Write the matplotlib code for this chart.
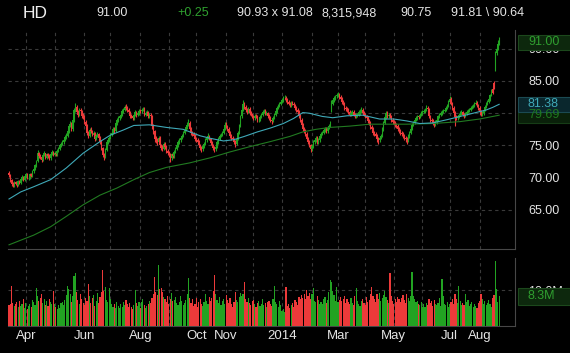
import numpy as np
import pandas as pd
import matplotlib
matplotlib.use('Agg')
import matplotlib.pyplot as plt
from matplotlib.patches import Rectangle
from matplotlib.transforms import blended_transform_factory

plt.rcParams['font.family'] = ['Liberation Sans', 'DejaVu Sans']

# daily bars for HD
start_date = '2013-03-13'
end_date = '2014-08-22'

opens = [
    70.8, 70.4, 69.6, 69.0, 68.8, 69.3, 69.1, 68.9, 69.5, 69.2,
    69.8, 70.1, 69.7, 70.2, 70.5, 70.0, 70.0, 70.6, 70.3, 71.0,
    71.4, 71.9, 72.6, 73.8, 73.4, 73.2, 72.8, 73.5, 73.8, 73.1,
    73.6, 73.4, 73.0, 73.7, 74.0, 73.5, 73.9, 73.6, 74.2, 74.5,
    75.0, 75.3, 75.5, 75.9, 76.3, 76.5, 77.2, 78.0, 78.4, 77.5,
    78.9, 80.5, 81.0, 80.2, 79.8, 80.5, 80.3, 79.6, 79.5, 78.6,
    78.0, 77.0, 76.5, 77.4, 77.2, 76.6, 76.9, 76.0, 76.5, 76.8,
    76.2, 75.5, 74.6, 73.5, 73.2, 74.3, 75.5, 75.8, 76.2, 76.6,
    77.0, 77.5, 77.3, 78.5, 78.9, 79.2, 79.5, 79.8, 80.3, 80.5,
    81.0, 80.8, 80.5, 80.2, 79.6, 79.5, 79.2, 79.8, 80.2, 79.7,
    80.0, 80.4, 80.3, 80.5, 80.7, 79.8, 80.0, 80.2, 79.5, 79.8,
    79.5, 78.0, 77.2, 76.0, 75.8, 75.5, 76.2, 75.0, 74.6, 74.5,
    75.2, 74.8, 74.2, 73.8, 73.5, 73.0, 73.6, 73.3, 74.0, 74.5,
    75.0, 75.5, 75.8, 76.2, 76.5, 77.0, 77.4, 77.8, 78.2, 78.5,
    77.5, 77.0, 76.8, 76.5, 76.0, 75.8, 75.5, 75.0, 74.6, 74.5,
    74.9, 75.2, 75.8, 76.2, 76.5, 76.0, 75.4, 75.0, 74.6, 74.4,
    74.8, 75.5, 76.0, 76.5, 76.7, 77.0, 77.6, 78.2, 78.0, 77.5,
    77.0, 76.5, 76.2, 76.0, 75.6, 75.2, 76.0, 77.0, 78.0, 79.5,
    80.5, 81.5, 81.0, 80.5, 80.2, 80.6, 80.0, 79.8, 79.5, 79.2,
    79.6, 79.5, 79.0, 79.0, 79.4, 79.8, 80.2, 80.3, 80.0, 80.0,
    79.6, 79.2, 78.9, 78.8, 79.3, 79.8, 80.3, 80.8, 81.2, 81.5,
    81.8, 82.0, 82.3, 82.3, 82.0, 81.8, 81.5, 81.2, 81.6, 81.5,
    81.2, 80.8, 80.5, 80.2, 79.6, 79.0, 78.2, 77.5, 77.2, 76.8,
    76.0, 75.5, 75.0, 74.5, 74.9, 75.5, 75.8, 76.2, 75.5, 75.8,
    76.4, 76.8, 77.0, 77.4, 77.5, 77.2, 77.7, 78.0, 80.5, 81.5,
    82.0, 82.3, 82.6, 82.8, 82.9, 82.5, 82.2, 81.8, 81.5, 80.8,
    80.6, 80.5, 80.2, 79.8, 80.0, 80.2, 79.8, 79.5, 79.7, 79.8,
    80.2, 80.2, 80.5, 80.0, 79.8, 79.5, 79.2, 78.8, 78.5, 77.8,
    77.5, 77.0, 76.8, 76.5, 76.0, 75.8, 76.2, 76.5, 77.5, 78.5,
    79.4, 80.0, 79.6, 79.8, 79.5, 79.0, 78.6, 78.5, 78.2, 78.0,
    77.5, 77.2, 77.0, 76.8, 76.5, 76.2, 76.0, 75.8, 76.5, 77.0,
    77.6, 78.2, 78.5, 79.0, 79.2, 79.5, 79.4, 79.8, 80.0, 80.2,
    80.4, 80.5, 80.8, 80.6, 79.5, 79.0, 78.8, 78.5, 78.2, 78.6,
    79.0, 79.5, 79.8, 80.0, 80.2, 80.4, 80.5, 80.8, 81.2, 81.8,
    82.2, 81.5, 80.8, 80.0, 79.4, 79.2, 79.5, 79.8, 80.0, 80.2,
    79.8, 79.6, 79.9, 80.2, 80.4, 80.5, 80.8, 81.0, 81.2, 81.5,
    81.6, 81.2, 80.8, 80.2, 79.8, 80.0, 80.5, 81.0, 81.5, 81.8,
    82.2, 82.8, 83.8, 84.7, 86.9, 89.3, 90.0, 90.75,
]
highs = [
    71.1, 70.5, 69.8, 69.3, 69.5, 69.5, 69.3, 69.7, 69.6, 70.0,
    70.4, 70.3, 70.4, 70.8, 70.7, 70.3, 70.8, 70.8, 71.2, 71.7,
    72.1, 72.8, 74.3, 74.0, 73.7, 73.4, 73.7, 74.1, 73.9, 73.9,
    73.9, 73.6, 73.9, 74.3, 74.2, 74.1, 74.1, 74.4, 74.8, 75.2,
    75.6, 75.8, 76.1, 76.6, 76.9, 77.5, 78.3, 78.8, 78.6, 79.2,
    80.8, 81.6, 81.2, 80.5, 80.8, 80.8, 80.5, 80.0, 79.8, 78.9,
    78.3, 77.3, 77.7, 77.8, 77.4, 77.2, 77.1, 76.8, 77.1, 77.0,
    76.4, 75.8, 74.8, 73.9, 74.6, 75.8, 76.1, 76.5, 76.9, 77.3,
    77.8, 77.8, 78.8, 79.2, 79.5, 79.8, 80.1, 80.6, 80.8, 81.3,
    81.4, 81.1, 80.8, 80.4, 79.9, 79.8, 80.1, 80.5, 80.4, 80.3,
    80.7, 80.7, 80.8, 81.0, 80.9, 80.3, 80.5, 80.4, 80.1, 80.0,
    79.7, 78.3, 77.4, 76.4, 76.1, 76.5, 76.4, 75.3, 75.0, 75.5,
    75.5, 75.0, 74.5, 74.1, 73.8, 73.9, 73.9, 74.3, 74.8, 75.3,
    75.8, 76.1, 76.5, 76.8, 77.3, 77.7, 78.1, 78.6, 79.1, 78.8,
    77.8, 77.3, 77.1, 76.8, 76.3, 76.1, 75.8, 75.3, 74.9, 75.2,
    75.5, 76.1, 76.5, 76.9, 76.7, 76.2, 75.7, 75.3, 74.9, 75.1,
    75.8, 76.3, 76.8, 77.0, 77.3, 77.9, 78.7, 78.6, 78.2, 77.8,
    77.3, 76.8, 76.5, 76.2, 75.9, 76.3, 77.3, 78.3, 79.8, 80.8,
    82.0, 81.8, 81.3, 80.8, 80.9, 80.9, 80.3, 80.1, 79.8, 79.9,
    79.9, 79.8, 79.3, 79.7, 80.1, 80.5, 80.6, 80.6, 80.3, 80.2,
    79.9, 79.5, 79.1, 79.6, 80.1, 80.6, 81.1, 81.5, 81.8, 82.1,
    82.3, 82.6, 82.8, 82.6, 82.3, 82.0, 81.8, 81.9, 81.9, 81.7,
    81.5, 81.1, 80.8, 80.5, 79.9, 79.3, 78.5, 77.9, 77.5, 77.1,
    76.3, 75.8, 75.3, 75.2, 75.8, 76.1, 76.5, 76.4, 76.1, 76.7,
    77.1, 77.3, 77.7, 77.9, 77.8, 78.0, 78.3, 78.8, 82.0, 82.4,
    82.6, 82.9, 83.2, 83.3, 83.1, 82.8, 82.5, 82.0, 81.7, 81.1,
    80.9, 80.8, 80.5, 80.3, 80.5, 80.5, 80.1, 80.0, 80.1, 80.5,
    80.6, 80.9, 80.8, 80.3, 80.1, 79.8, 79.5, 79.1, 78.8, 78.1,
    77.8, 77.3, 77.1, 76.8, 76.3, 76.5, 76.8, 77.8, 78.8, 79.7,
    80.4, 80.3, 80.1, 80.1, 79.8, 79.3, 78.9, 78.8, 78.5, 78.3,
    77.8, 77.5, 77.3, 77.1, 76.8, 76.5, 76.3, 76.8, 77.3, 77.9,
    78.5, 78.8, 79.3, 79.5, 79.8, 79.8, 80.1, 80.3, 80.5, 80.7,
    80.8, 81.3, 81.1, 80.8, 79.8, 79.3, 79.1, 78.8, 78.9, 79.3,
    79.8, 80.1, 80.3, 80.5, 80.7, 80.8, 81.1, 81.5, 82.1, 82.6,
    82.5, 81.8, 81.1, 80.3, 79.7, 79.8, 80.1, 80.3, 80.5, 80.4,
    80.1, 80.2, 80.5, 80.7, 80.8, 81.1, 81.3, 81.5, 81.8, 82.0,
    81.9, 81.5, 81.1, 80.5, 80.3, 80.8, 81.3, 81.8, 82.1, 82.5,
    83.0, 83.7, 84.2, 85.0, 89.6, 90.3, 91.3, 91.81,
]
lows = [
    70.1, 69.4, 68.7, 68.5, 68.6, 68.9, 68.6, 68.7, 69.0, 69.1,
    69.6, 69.5, 69.5, 70.0, 69.8, 69.7, 69.8, 70.1, 70.1, 70.8,
    71.2, 71.7, 72.4, 73.1, 72.9, 72.5, 72.6, 73.3, 72.9, 72.9,
    73.1, 72.8, 72.8, 73.5, 73.3, 73.3, 73.4, 73.4, 74.0, 74.3,
    74.8, 75.0, 75.3, 75.7, 76.0, 76.3, 77.0, 77.8, 77.2, 77.3,
    78.7, 80.2, 80.0, 79.4, 79.6, 80.0, 79.3, 79.1, 78.3, 77.5,
    76.7, 76.1, 76.3, 76.9, 76.4, 76.4, 75.7, 75.8, 76.3, 75.9,
    75.2, 74.3, 73.2, 72.8, 73.0, 74.1, 75.3, 75.6, 76.0, 76.4,
    76.8, 77.0, 77.1, 78.2, 78.6, 79.0, 79.3, 79.6, 80.1, 80.3,
    80.5, 80.2, 79.9, 79.3, 79.2, 78.9, 79.0, 79.6, 79.4, 79.5,
    79.8, 80.0, 80.1, 80.3, 79.5, 79.6, 79.8, 79.3, 79.3, 79.2,
    77.6, 76.8, 75.6, 75.4, 75.1, 75.3, 74.7, 74.3, 74.1, 74.3,
    74.5, 73.9, 73.5, 73.2, 72.4, 72.8, 73.0, 73.1, 73.8, 74.3,
    74.8, 75.3, 75.6, 76.0, 76.3, 76.8, 77.2, 77.6, 78.0, 77.2,
    76.7, 76.5, 76.2, 75.7, 75.5, 75.2, 74.7, 74.3, 74.0, 74.2,
    74.6, 75.0, 75.6, 76.0, 75.8, 75.1, 74.7, 74.3, 74.0, 74.2,
    74.6, 75.3, 75.8, 76.3, 76.5, 76.8, 77.4, 77.7, 77.2, 76.7,
    76.2, 75.9, 75.7, 75.3, 74.8, 75.0, 75.8, 76.8, 77.8, 79.3,
    80.3, 80.7, 80.2, 79.9, 80.0, 79.7, 79.5, 79.2, 78.9, 79.0,
    79.2, 78.7, 78.6, 78.8, 79.2, 79.6, 80.0, 79.7, 79.7, 79.3,
    78.9, 78.6, 78.4, 78.6, 79.1, 79.6, 80.1, 80.6, 81.0, 81.3,
    81.6, 81.8, 82.0, 81.7, 81.5, 81.2, 80.9, 81.0, 81.2, 80.9,
    80.5, 80.2, 79.9, 79.3, 78.7, 77.9, 77.2, 76.9, 76.4, 75.7,
    75.2, 74.7, 74.0, 74.2, 74.6, 75.3, 75.6, 75.2, 75.3, 75.6,
    76.2, 76.6, 76.8, 77.1, 76.9, 77.0, 77.5, 77.8, 80.2, 81.2,
    81.7, 82.1, 82.4, 82.5, 82.2, 81.9, 81.5, 81.2, 80.5, 80.3,
    80.2, 79.9, 79.5, 79.5, 79.7, 79.5, 79.2, 79.2, 79.4, 79.6,
    79.8, 80.0, 79.7, 79.5, 79.2, 78.9, 78.5, 78.2, 77.5, 77.1,
    76.7, 76.5, 76.2, 75.6, 75.3, 75.5, 76.0, 76.3, 77.3, 78.3,
    79.1, 79.3, 79.3, 79.2, 78.7, 78.3, 78.2, 77.9, 77.7, 77.2,
    76.9, 76.7, 76.5, 76.2, 75.9, 75.6, 75.2, 75.5, 76.2, 76.8,
    77.4, 78.0, 78.3, 78.8, 79.0, 79.1, 79.2, 79.6, 79.8, 80.0,
    80.1, 80.3, 80.3, 79.3, 78.7, 78.5, 78.2, 77.8, 78.0, 78.4,
    78.8, 79.3, 79.6, 79.8, 80.0, 80.2, 80.3, 80.6, 81.0, 81.5,
    81.2, 80.5, 79.7, 78.0, 78.9, 79.0, 79.3, 79.6, 79.8, 79.5,
    79.3, 79.4, 79.7, 80.0, 80.2, 80.3, 80.6, 80.8, 81.0, 81.2,
    80.9, 80.5, 79.9, 79.5, 79.5, 79.8, 80.3, 80.8, 81.3, 81.6,
    81.9, 82.6, 83.0, 83.8, 86.6, 89.0, 89.8, 90.64,
]
closes = [
    70.4, 69.6, 69.0, 68.8, 69.3, 69.1, 68.9, 69.5, 69.2, 69.8,
    70.1, 69.7, 70.2, 70.5, 70.0, 70.0, 70.6, 70.3, 71.0, 71.4,
    71.9, 72.5, 73.8, 73.4, 73.2, 72.8, 73.5, 73.8, 73.1, 73.6,
    73.4, 73.0, 73.7, 74.0, 73.5, 73.9, 73.6, 74.2, 74.5, 75.0,
    75.3, 75.5, 75.9, 76.3, 76.5, 77.2, 78.0, 78.4, 77.5, 78.9,
    80.5, 81.0, 80.2, 79.8, 80.5, 80.3, 79.6, 79.5, 78.6, 78.0,
    77.0, 76.5, 77.4, 77.2, 76.6, 76.9, 76.0, 76.5, 76.8, 76.2,
    75.5, 74.6, 73.5, 73.2, 74.3, 75.5, 75.8, 76.2, 76.6, 77.0,
    77.5, 77.3, 78.5, 78.9, 79.2, 79.5, 79.8, 80.3, 80.5, 81.0,
    80.8, 80.5, 80.2, 79.6, 79.5, 79.2, 79.8, 80.2, 79.7, 80.0,
    80.4, 80.3, 80.5, 80.7, 79.8, 80.0, 80.2, 79.5, 79.8, 79.5,
    78.0, 77.2, 76.0, 75.8, 75.5, 76.2, 75.0, 74.6, 74.5, 75.2,
    74.8, 74.2, 73.8, 73.5, 73.0, 73.6, 73.3, 74.0, 74.5, 75.0,
    75.5, 75.8, 76.2, 76.5, 77.0, 77.4, 77.8, 78.2, 78.5, 77.5,
    77.0, 76.8, 76.5, 76.0, 75.8, 75.5, 75.0, 74.6, 74.5, 74.9,
    75.2, 75.8, 76.2, 76.5, 76.0, 75.4, 75.0, 74.6, 74.4, 74.8,
    75.5, 76.0, 76.5, 76.7, 77.0, 77.6, 78.2, 78.0, 77.5, 77.0,
    76.5, 76.2, 76.0, 75.6, 75.2, 76.0, 77.0, 78.0, 79.5, 80.5,
    81.5, 81.0, 80.5, 80.2, 80.6, 80.0, 79.8, 79.5, 79.2, 79.6,
    79.5, 79.0, 79.0, 79.4, 79.8, 80.2, 80.3, 80.0, 80.0, 79.6,
    79.2, 78.9, 78.8, 79.3, 79.8, 80.3, 80.8, 81.2, 81.5, 81.8,
    82.0, 82.3, 82.3, 82.0, 81.8, 81.5, 81.2, 81.6, 81.5, 81.2,
    80.8, 80.5, 80.2, 79.6, 79.0, 78.2, 77.5, 77.2, 76.8, 76.0,
    75.5, 75.0, 74.5, 74.9, 75.5, 75.8, 76.2, 75.5, 75.8, 76.4,
    76.8, 77.0, 77.4, 77.5, 77.2, 77.7, 78.0, 78.5, 81.5, 82.0,
    82.3, 82.6, 82.8, 82.9, 82.5, 82.2, 81.8, 81.5, 80.8, 80.6,
    80.5, 80.2, 79.8, 80.0, 80.2, 79.8, 79.5, 79.7, 79.8, 80.2,
    80.2, 80.5, 80.0, 79.8, 79.5, 79.2, 78.8, 78.5, 77.8, 77.5,
    77.0, 76.8, 76.5, 76.0, 75.8, 76.2, 76.5, 77.5, 78.5, 79.4,
    80.0, 79.6, 79.8, 79.5, 79.0, 78.6, 78.5, 78.2, 78.0, 77.5,
    77.2, 77.0, 76.8, 76.5, 76.2, 76.0, 75.8, 76.5, 77.0, 77.6,
    78.2, 78.5, 79.0, 79.2, 79.5, 79.4, 79.8, 80.0, 80.2, 80.4,
    80.5, 80.8, 80.6, 79.5, 79.0, 78.8, 78.5, 78.2, 78.6, 79.0,
    79.5, 79.8, 80.0, 80.2, 80.4, 80.5, 80.8, 81.2, 81.8, 82.2,
    81.5, 80.8, 80.0, 79.4, 79.2, 79.5, 79.8, 80.0, 80.2, 79.8,
    79.6, 79.9, 80.2, 80.4, 80.5, 80.8, 81.0, 81.2, 81.5, 81.6,
    81.2, 80.8, 80.2, 79.8, 80.0, 80.5, 81.0, 81.5, 81.8, 82.2,
    82.8, 83.4, 83.2, 84.1, 89.3, 89.9, 90.75, 91.00,
]
# volume in millions of shares
volumes = [
    5.8, 6.2, 11.2, 6.5, 5.5, 6.0, 6.8, 5.2, 7.0, 5.5,
    6.2, 7.5, 5.0, 6.4, 4.8, 5.6, 6.0, 5.4, 7.2, 6.6,
    5.9, 10.5, 8.2, 7.0, 7.8, 9.0, 6.5, 7.5, 5.8, 6.9,
    5.5, 7.6, 6.8, 6.0, 9.7, 6.2, 5.3, 4.6, 5.9, 5.0,
    6.3, 6.6, 5.7, 7.3, 8.5, 11.0, 10.2, 9.0, 6.8, 8.2,
    13.8, 14.6, 9.5, 7.2, 6.0, 8.8, 7.5, 6.5, 5.8, 7.8,
    6.9, 11.6, 8.2, 6.4, 7.7, 8.5, 5.6, 7.0, 9.1, 6.3,
    8.0, 9.4, 15.6, 9.8, 10.8, 7.2, 6.6, 10.5, 7.4, 6.0,
    5.4, 6.2, 5.0, 6.8, 5.6, 4.9, 6.1, 5.3, 6.7, 5.8,
    7.1, 6.0, 5.2, 6.5, 5.4, 4.7, 5.9, 10.0, 6.3, 5.5,
    6.6, 5.1, 6.8, 7.4, 5.7, 4.9, 5.6, 6.2, 7.0, 6.4,
    7.8, 9.0, 13.7, 9.5, 8.6, 17.0, 10.2, 10.5, 9.4, 8.0,
    7.5, 6.8, 8.3, 6.2, 7.6, 9.2, 6.9, 7.3, 8.1, 6.5,
    5.8, 6.6, 8.4, 7.0, 5.9, 6.5, 7.2, 8.8, 13.3, 7.8,
    6.4, 7.6, 5.5, 6.1, 7.9, 5.2, 6.8, 7.4, 6.0, 5.6,
    6.7, 8.8, 7.0, 6.2, 8.0, 6.9, 7.7, 9.6, 14.2, 9.0,
    7.2, 6.5, 8.0, 5.8, 6.9, 7.4, 6.2, 8.5, 7.1, 6.3,
    7.8, 6.0, 5.4, 6.6, 9.5, 7.2, 6.8, 8.0, 9.2, 8.4,
    8.9, 12.1, 7.5, 6.8, 7.9, 6.4, 5.8, 6.9, 7.3, 6.0,
    5.4, 6.3, 7.0, 5.5, 6.2, 7.6, 5.9, 6.4, 5.2, 6.8,
    7.0, 6.1, 5.6, 7.5, 11.2, 6.6, 6.0, 5.3, 6.9, 5.8,
    4.2, 4.8, 3.9, 10.8, 5.5, 6.1, 4.9, 5.7, 6.3, 5.4,
    7.2, 6.6, 5.9, 8.0, 7.4, 8.6, 7.8, 9.0, 7.5, 10.0,
    8.4, 9.2, 7.6, 8.8, 10.5, 7.0, 6.6, 8.3, 7.1, 6.2,
    6.8, 6.0, 7.5, 8.0, 6.4, 7.2, 9.5, 12.8, 12.2, 9.8,
    8.5, 7.0, 10.8, 6.6, 7.3, 8.1, 6.9, 7.6, 8.2, 6.4,
    7.5, 6.8, 6.0, 7.7, 6.5, 5.8, 8.4, 10.5, 7.0, 6.2,
    5.6, 6.9, 7.4, 6.3, 5.9, 8.0, 6.7, 7.2, 9.0, 10.8,
    8.2, 7.5, 6.8, 8.8, 7.6, 9.2, 6.9, 7.8, 8.5, 9.6,
    8.0, 7.2, 6.5, 14.6, 8.3, 7.0, 6.2, 7.5, 6.8, 8.1,
    7.4, 6.6, 7.9, 8.5, 7.1, 6.3, 9.0, 7.7, 6.9, 8.4,
    15.1, 8.2, 7.5, 6.7, 7.0, 6.1, 5.8, 6.6, 5.4, 6.0,
    5.2, 6.5, 5.7, 7.6, 6.3, 6.9, 5.5, 7.2, 6.0, 5.8,
    6.4, 7.8, 5.6, 13.0, 8.4, 6.2, 5.8, 6.7, 5.3, 6.1,
    6.8, 7.4, 6.0, 8.9, 7.6, 6.3, 11.0, 6.9, 5.9, 6.4,
    5.7, 9.0, 6.6, 7.3, 5.5, 6.0, 6.8, 5.3, 6.2, 5.6,
    5.1, 6.4, 7.0, 9.0, 7.5, 6.2, 6.9, 5.8, 6.5, 7.2,
    6.0, 5.4, 7.8, 8.6, 18.0, 10.2, 6.8, 8.3,
]

# moving averages read at a few bar positions
ma50_idx = [0, 9, 19, 32, 44, 57, 70, 78, 88, 96, 108, 121, 134, 147, 155, 165,
            173, 181, 191, 201, 211, 219, 226, 231, 241, 249, 260, 272, 285, 296,
            306, 316, 326, 337, 347, 357, 367, 372, 377]
ma50 = [66.7, 67.8, 68.6, 69.7, 71.5, 73.8, 75.6, 76.6, 77.4, 78.1, 78.2, 77.8,
        77.5, 76.5, 76.1, 75.7, 75.9, 76.4, 77.1, 77.7, 78.4, 79.2, 80.1, 80.0,
        79.5, 79.3, 79.6, 79.7, 79.1, 79.1, 78.8, 78.4, 78.5, 79.0, 79.5, 80.0,
        80.5, 80.9, 81.38]
ma200_idx = [0, 19, 32, 44, 57, 70, 83, 96, 108, 121, 139, 155, 170, 185, 201,
             216, 226, 236, 247, 262, 278, 288, 306, 326, 347, 362, 377]
ma200 = [59.6, 61.1, 62.4, 64.0, 65.8, 67.3, 68.4, 69.7, 70.8, 71.6, 72.3, 73.1,
         74.0, 74.8, 75.6, 76.4, 77.1, 77.5, 77.8, 78.0, 78.3, 78.3, 78.3, 78.4,
         78.7, 79.1, 79.69]

price_ticks = [65, 70, 75, 80, 85, 90]
vol_ticks = [10]
label_months = ['2013-04', '2013-06', '2013-08', '2013-10', '2013-11',
                '2014-01', '2014-03', '2014-05', '2014-07', '2014-08']
label_text = ['Apr', 'Jun', 'Aug', 'Oct', 'Nov', '2014', 'Mar', 'May', 'Jul', 'Aug']

GREEN = '#22a322'
RED = '#ec3a3a'
CYAN = '#3fa9b8'
MAGREEN = '#217a21'
GRID = '#3a3a3a'
SPINE = '#474747'
TEXT = '#e4e4e4'

opens = np.array(opens)
closes = np.array(closes)
dates = pd.bdate_range(start_date, end_date)
x = np.arange(len(dates))
months = dates.to_period('M')
month_idx = np.flatnonzero(months[1:] != months[:-1]) + 1
month_keys = [str(months[i]) for i in month_idx]
month_lbl = [label_text[label_months.index(k)] if k in label_months else '' for k in month_keys]

cols = np.where(closes >= opens, GREEN, RED)

W, H = 570, 353
fig = plt.figure(figsize=(W / 100, H / 100), dpi=100, facecolor='black')


def px_axes(l, t, r, b):
    return fig.add_axes([l / W, 1 - b / H, (r - l) / W, (b - t) / H], facecolor='black')


ax = px_axes(8, 30, 515, 249)
axv = px_axes(8, 258, 515, 326)

# candles
ax.vlines(x, lows, highs, colors=cols, linewidth=0.8, zorder=3)
ax.bar(x, closes - opens, bottom=opens, width=0.95, color=cols, linewidth=0, zorder=3)
ax.plot(ma200_idx, ma200, color=MAGREEN, linewidth=0.8, zorder=4)
ax.plot(ma50_idx, ma50, color=CYAN, linewidth=0.8, zorder=4)

axv.bar(x, volumes, width=0.9, color=cols, linewidth=0, zorder=3)

xlim = (-0.77, 389.2)
for a in (ax, axv):
    a.set_xlim(*xlim)
    a.set_xticks(month_idx)
    a.grid(True, color=GRID, linestyle=(0, (3, 3)), linewidth=0.8, zorder=0)
    a.yaxis.tick_right()
    a.tick_params(axis='both', length=0)
    a.tick_params(axis='y', pad=9.4, labelsize=9, labelcolor=TEXT)
    for s in ('top', 'left'):
        a.spines[s].set_visible(False)
    for s in ('right', 'bottom'):
        a.spines[s].set_color(SPINE)
        a.spines[s].set_linewidth(0.8)

ax.set_ylim(58.95, 92.9)
ax.set_yticks(price_ticks)
ax.set_yticklabels([f'{v:.2f}' for v in price_ticks])
ax.tick_params(axis='x', labelbottom=False)

axv.set_ylim(0, 18.9)
axv.set_yticks(vol_ticks)
axv.set_yticklabels([f'{v:.1f}M' for v in vol_ticks])
axv.set_xticklabels(month_lbl)
axv.tick_params(axis='x', pad=3, labelsize=9.5, labelcolor=TEXT)


def tag(a, y, text, fg, bg, ec, h):
    tr = blended_transform_factory(a.transAxes, a.transData)
    a.add_patch(Rectangle((1.006, y - h / 2), 0.12, h, transform=tr, clip_on=False,
                          facecolor=bg, edgecolor=ec, linewidth=0.8, zorder=5))
    a.text(1.0256, y, text, transform=tr, color=fg, fontsize=9, ha='left',
           va='center', zorder=6, clip_on=False)


tag(ax, ma200[-1], f'{ma200[-1]:.2f}', '#1f7a1f', '#0a200a', '#163c16', 2.3)
tag(ax, ma50[-1], f'{ma50[-1]:.2f}', CYAN, '#0a272d', '#1b4a52', 2.3)
tag(ax, closes[-1], f'{closes[-1]:.2f}', '#2f9e2f', '#0d280d', '#1c481c', 2.4)
tag(axv, volumes[-1], f'{volumes[-1]:.1f}M', '#2f9e2f', '#0d280d', '#1c481c', 4.7)

# quote header
hy = 1 - 13 / H
fig.text(23 / W, hy, 'HD', color='#eeeeee', fontsize=12.5, va='center')
fig.text(96 / W, hy, '91.00', color=TEXT, fontsize=9, va='center')
fig.text(177 / W, hy, '+0.25', color='#2fa02f', fontsize=9, va='center')
fig.text(237 / W, hy, '90.93 x 91.08', color=TEXT, fontsize=9, va='center')
fig.text(322 / W, hy, '8,315,948', color=TEXT, fontsize=9, va='center')
fig.text(400 / W, hy, '90.75', color=TEXT, fontsize=9, va='center')
fig.text(451 / W, hy, '91.81 \\ 90.64', color=TEXT, fontsize=9, va='center')

fig.savefig('out.png', dpi=100, facecolor='black')
